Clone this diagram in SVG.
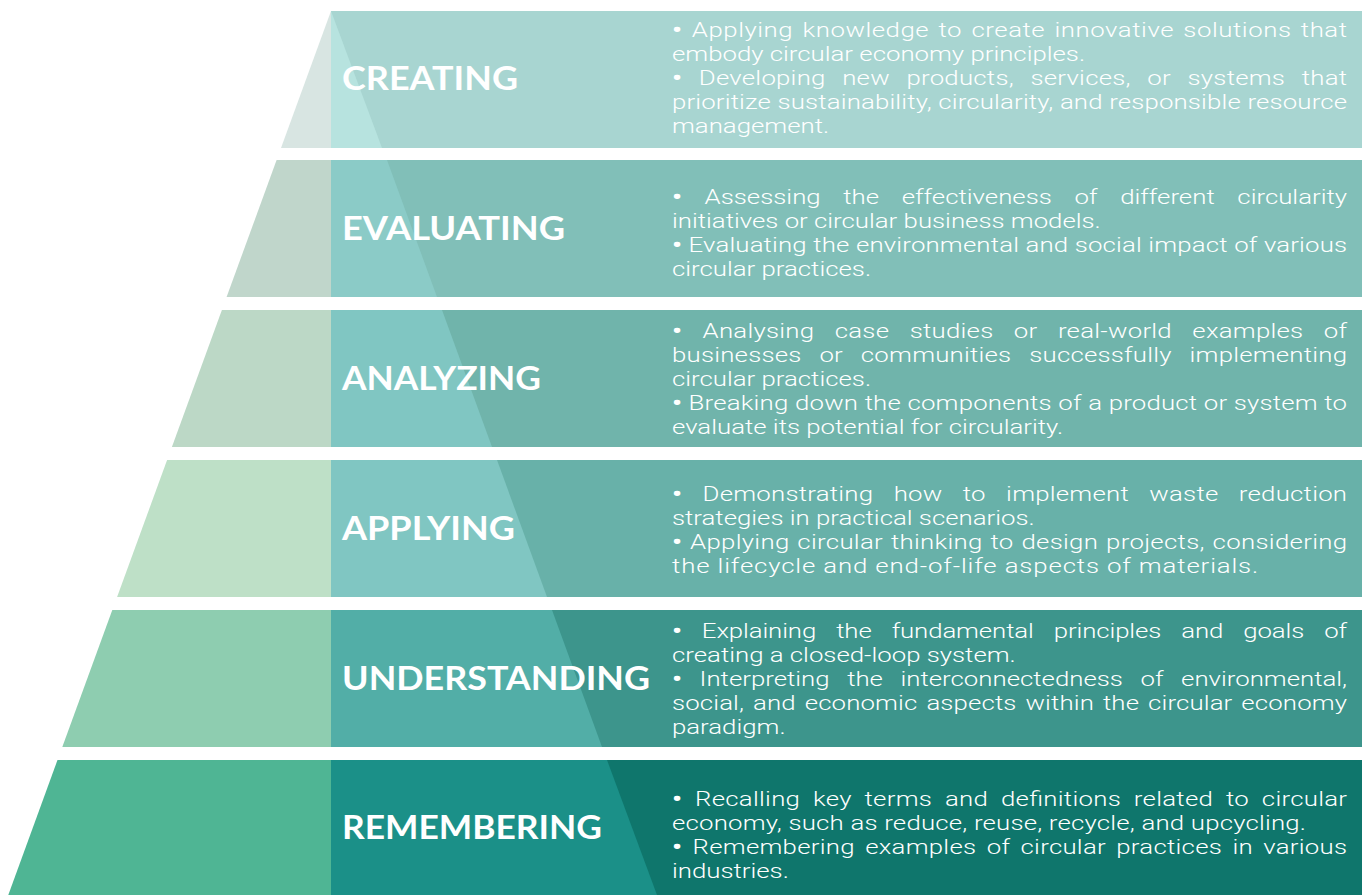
<svg xmlns="http://www.w3.org/2000/svg" width="1362" height="895" viewBox="0 0 1362 895">
<style>
.h{font-family:Lato,"Open Sans","Liberation Sans",sans-serif;font-weight:700;font-size:32px;fill:#ffffff}
.t{font-family:Roboto,"Open Sans","Liberation Sans",sans-serif;font-weight:300;font-size:20.5px;fill:#ffffff}
.b{font-weight:700;font-size:22px}
</style>
<rect width="1362" height="895" fill="#ffffff"/>
<g id="creating">
<polygon points="331,11 331,148 281,148" fill="#d8e5e2"/>
<rect x="331" y="11" width="1031" height="137" fill="#a8d5d1"/>
<polygon points="331,11 382,148 331,148" fill="#b7e3df"/>
<text class="h" x="342" y="90" textLength="176" lengthAdjust="spacingAndGlyphs">CREATING</text>
<g transform="translate(672 0) scale(1.258 1)">
<text class="t" x="0" y="37" textLength="536.6" lengthAdjust="spacing" word-spacing="2"><tspan class="b">•</tspan> Applying knowledge to create innovative solutions that</text>
<text class="t" x="0" y="61">embody circular economy principles.</text>
<text class="t" x="0" y="85" textLength="536.6" lengthAdjust="spacing" word-spacing="8"><tspan class="b">•</tspan> Developing new products, services, or systems that</text>
<text class="t" x="0" y="109" textLength="536.6" lengthAdjust="spacing">prioritize sustainability, circularity, and responsible resource</text>
<text class="t" x="0" y="133">management.</text>
</g>
</g>
<g id="evaluating">
<polygon points="276.6,160 331,160 331,297 226.6,297" fill="#c0d6cb"/>
<rect x="331" y="160" width="1031" height="137" fill="#81bfb8"/>
<polygon points="331,160 387,160 437,297 331,297" fill="#8bcbc7"/>
<text class="h" x="342" y="240" textLength="223" lengthAdjust="spacingAndGlyphs">EVALUATING</text>
<g transform="translate(672 0) scale(1.258 1)">
<text class="t" x="0" y="204" textLength="536.6" lengthAdjust="spacing" word-spacing="13"><tspan class="b">•</tspan> Assessing the effectiveness of different circularity</text>
<text class="t" x="0" y="228">initiatives or circular business models.</text>
<text class="t" x="0" y="252" textLength="536.6" lengthAdjust="spacing"><tspan class="b">•</tspan> Evaluating the environmental and social impact of various</text>
<text class="t" x="0" y="276">circular practices.</text>
</g>
</g>
<g id="analyzing">
<polygon points="221.9,310 331,310 331,447 171.9,447" fill="#bcd8c6"/>
<rect x="331" y="310" width="1031" height="137" fill="#70b4ab"/>
<polygon points="331,310 442,310 492,447 331,447" fill="#80c6c2"/>
<text class="h" x="342" y="390" textLength="199" lengthAdjust="spacingAndGlyphs">ANALYZING</text>
<g transform="translate(672 0) scale(1.258 1)">
<text class="t" x="0" y="338" textLength="536.6" lengthAdjust="spacing" word-spacing="11"><tspan class="b">•</tspan> Analysing case studies or real-world examples of</text>
<text class="t" x="0" y="362" textLength="536.6" lengthAdjust="spacing" word-spacing="9">businesses or communities successfully implementing</text>
<text class="t" x="0" y="386">circular practices.</text>
<text class="t" x="0" y="410" textLength="536.6" lengthAdjust="spacing"><tspan class="b">•</tspan> Breaking down the components of a product or system to</text>
<text class="t" x="0" y="434">evaluate its potential for circularity.</text>
</g>
</g>
<g id="applying">
<polygon points="167.1,460 331,460 331,597 117.1,597" fill="#bee0c7"/>
<rect x="331" y="460" width="1031" height="137" fill="#68b1a9"/>
<polygon points="331,460 497,460 547,597 331,597" fill="#80c6c2"/>
<text class="h" x="342" y="540" textLength="173" lengthAdjust="spacingAndGlyphs">APPLYING</text>
<g transform="translate(672 0) scale(1.258 1)">
<text class="t" x="0" y="501" textLength="536.6" lengthAdjust="spacing" word-spacing="11"><tspan class="b">•</tspan> Demonstrating how to implement waste reduction</text>
<text class="t" x="0" y="525">strategies in practical scenarios.</text>
<text class="t" x="0" y="549" textLength="536.6" lengthAdjust="spacing" word-spacing="1"><tspan class="b">•</tspan> Applying circular thinking to design projects, considering</text>
<text class="t" x="0" y="573" textLength="466" lengthAdjust="spacing">the lifecycle and end-of-life aspects of materials.</text>
</g>
</g>
<g id="understanding">
<polygon points="112.3,610 331,610 331,747 62.3,747" fill="#8ecdb0"/>
<rect x="331" y="610" width="1031" height="137" fill="#3d958c"/>
<polygon points="331,610 552,610 602,747 331,747" fill="#52aea7"/>
<text class="h" x="342" y="690" textLength="308" lengthAdjust="spacingAndGlyphs">UNDERSTANDING</text>
<g transform="translate(672 0) scale(1.258 1)">
<text class="t" x="0" y="638" textLength="536.6" lengthAdjust="spacing" word-spacing="11"><tspan class="b">•</tspan> Explaining the fundamental principles and goals of</text>
<text class="t" x="0" y="662">creating a closed-loop system.</text>
<text class="t" x="0" y="686" textLength="536.6" lengthAdjust="spacing" word-spacing="9"><tspan class="b">•</tspan> Interpreting the interconnectedness of environmental,</text>
<text class="t" x="0" y="710" textLength="536.6" lengthAdjust="spacing" word-spacing="2">social, and economic aspects within the circular economy</text>
<text class="t" x="0" y="734">paradigm.</text>
</g>
</g>
<g id="remembering">
<polygon points="57.5,760 331,760 331,895 8.3,895" fill="#4fb594"/>
<rect x="331" y="760" width="1031" height="135" fill="#0f766c"/>
<polygon points="331,760 607,760 657,895 331,895" fill="#1b9088"/>
<text class="h" x="342" y="839" textLength="260" lengthAdjust="spacingAndGlyphs">REMEMBERING</text>
<g transform="translate(672 0) scale(1.258 1)">
<text class="t" x="0" y="806" textLength="536.6" lengthAdjust="spacing" word-spacing="5"><tspan class="b">•</tspan> Recalling key terms and definitions related to circular</text>
<text class="t" x="0" y="830" textLength="504" lengthAdjust="spacing">economy, such as reduce, reuse, recycle, and upcycling.</text>
<text class="t" x="0" y="854" textLength="536.6" lengthAdjust="spacing" word-spacing="3"><tspan class="b">•</tspan> Remembering examples of circular practices in various</text>
<text class="t" x="0" y="878">industries.</text>
</g>
</g>
</svg>
